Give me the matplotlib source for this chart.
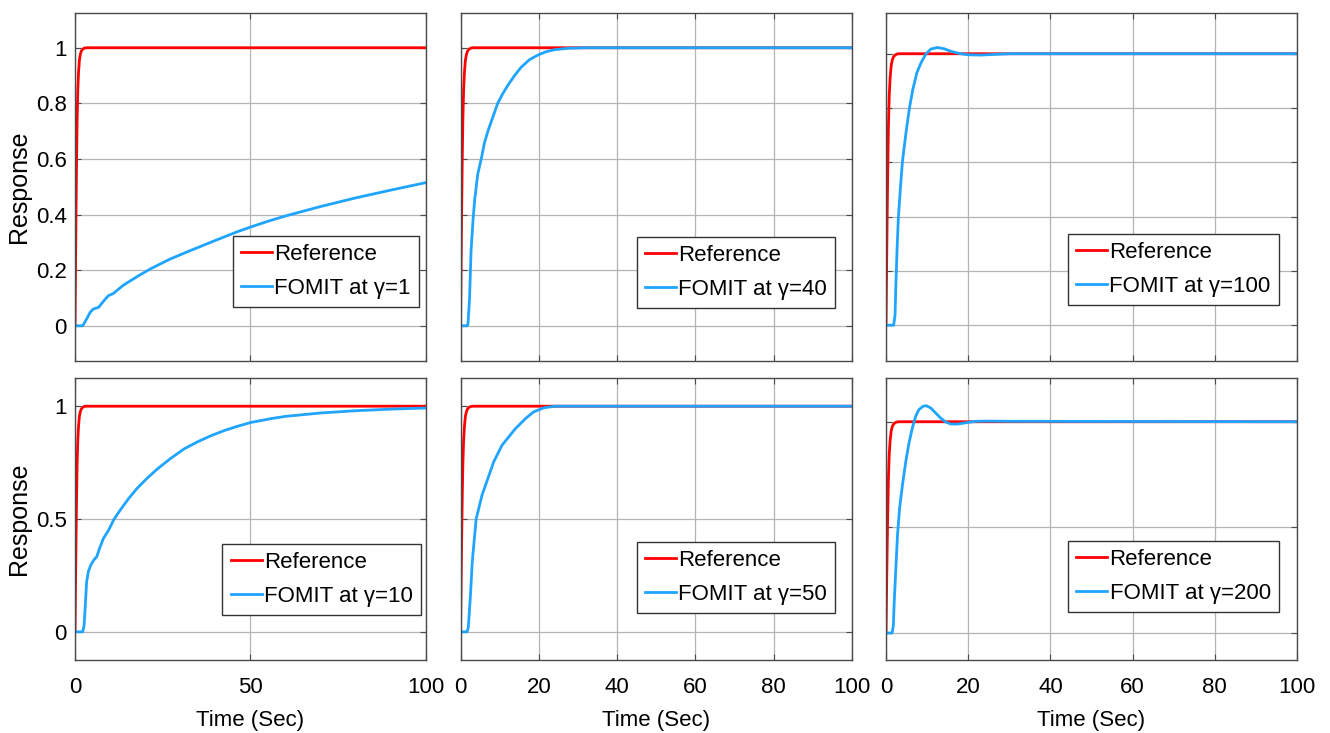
import matplotlib
matplotlib.use('Agg')
import matplotlib.pyplot as plt
from matplotlib.ticker import FuncFormatter

plt.rcParams['font.family'] = ['Liberation Sans', 'DejaVu Sans']

# reference input (same in every panel)
t_ref = [0, 0.15, 0.3, 0.45, 0.6, 0.8, 1.0, 1.25, 1.5, 1.8, 2.2, 2.7, 3.2, 100]
y_ref = [0, 0.22, 0.42, 0.6, 0.74, 0.85, 0.91, 0.955, 0.975, 0.988, 0.995, 0.999, 1, 1]

# FOMIT responses for each gamma
t_g1 = [0, 2.2, 3.3, 4.3, 5.2, 6.7, 8.1, 9.5, 10.9, 13.8, 17.6, 21.4, 27.1, 32, 36.7,
        41, 46, 50, 55, 60, 70, 80, 90, 100]
y_g1 = [0, 0, 0.024, 0.048, 0.06, 0.066, 0.088, 0.108, 0.116, 0.146, 0.176, 0.204,
        0.24, 0.266, 0.29, 0.312, 0.337, 0.355, 0.376, 0.395, 0.429, 0.46, 0.488, 0.515]

t_g10 = [0, 2.2, 2.6, 3.0, 3.3, 3.8, 4.5, 5.4, 6.2, 7.0, 8.1, 9.6, 11.0, 12.9, 15.3,
         17.7, 20.5, 23.4, 27.2, 31.0, 34.9, 38.7, 42.5, 46.3, 50.1, 55.9, 60, 70,
         80, 90, 100]
y_g10 = [0, 0, 0.03, 0.134, 0.22, 0.267, 0.296, 0.319, 0.333, 0.37, 0.414, 0.451,
         0.496, 0.54, 0.591, 0.636, 0.68, 0.721, 0.768, 0.81, 0.842, 0.869, 0.892,
         0.911, 0.928, 0.945, 0.955, 0.97, 0.98, 0.987, 0.992]

t_g40 = [0, 1.7, 1.9, 2.3, 2.7, 3.2, 3.6, 4.4, 5.3, 6.1, 7.0, 8.3, 9.5, 10.8, 12.1,
         13.8, 15.5, 17.6, 19.8, 21.9, 24.0, 27.5, 31.7, 100]
y_g40 = [0, 0, 0.005, 0.094, 0.27, 0.38, 0.45, 0.545, 0.60, 0.657, 0.70, 0.752, 0.80,
         0.835, 0.865, 0.90, 0.93, 0.957, 0.974, 0.986, 0.993, 0.998, 1, 1]

t_g50 = [0, 1.7, 2.0, 2.55, 3.0, 4.0, 5.5, 8.5, 10.6, 14.0, 16.6, 18.7, 21.3, 24.2, 100]
y_g50 = [0, 0, 0.02, 0.164, 0.31, 0.50, 0.606, 0.754, 0.827, 0.90, 0.945, 0.975,
         0.993, 1.0, 1.0]

t_g100 = [0, 1.86, 2.2, 2.4, 2.7, 3.0, 3.5, 4.0, 4.9, 5.7, 6.5, 7.5, 8.5, 9.7, 10.9,
          12.5, 14.2, 15.8, 17.8, 20, 23, 27, 30.3, 100]
y_g100 = [0, 0, 0.037, 0.148, 0.283, 0.394, 0.504, 0.603, 0.713, 0.80, 0.867, 0.929,
          0.966, 0.999, 1.017, 1.023, 1.018, 1.009, 1.001, 0.996, 0.995, 0.998, 1, 1]

t_g200 = [0, 1.5, 1.8, 2.0, 2.4, 2.8, 3.3, 4.0, 4.8, 5.6, 6.4, 7.2, 8.0, 9.0, 9.8,
          10.9, 12.1, 13.3, 14.6, 15.8, 17.4, 19.4, 21.9, 25.1, 30, 100]
y_g200 = [0, 0, 0.038, 0.148, 0.306, 0.464, 0.59, 0.70, 0.81, 0.90, 0.97, 1.025,
          1.057, 1.073, 1.076, 1.065, 1.041, 1.017, 0.998, 0.989, 0.989, 0.995, 1.002,
          1.003, 1.002, 1]

gammas = ['1', '40', '100', '10', '50', '200']
curves = [(t_g1, y_g1), (t_g40, y_g40), (t_g100, y_g100),
          (t_g10, y_g10), (t_g50, y_g50), (t_g200, y_g200)]

RED = '#ff0000'
BLUE = '#1fa4ff'

W, H = 1330, 733
cols = [(75, 426), (460.5, 852), (886, 1297)]
rows = [(13, 360.5), (378, 660)]
ylims = [(-0.125, 1.125), (-0.125, 1.125), (-0.13, 1.15),
         (-0.125, 1.125), (-0.125, 1.125), (-0.128, 1.207)]
yticks_top = [0, 0.2, 0.4, 0.6, 0.8, 1]
yticks_bot = [0, 0.5, 1]
leg_anchor = [(0.98, 0.154), (0.957, 0.151), (0.956, 0.160),
              (0.986, 0.160), (0.957, 0.167), (0.956, 0.170)]

fig = plt.figure(figsize=(W / 100, H / 100), dpi=100)

for i in range(6):
    r, c = divmod(i, 3)
    x0, x1 = cols[c]
    y0, y1 = rows[r]
    ax = fig.add_axes([x0 / W, 1 - y1 / H, (x1 - x0) / W, (y1 - y0) / H])

    t, y = curves[i]
    ax.plot(t_ref, y_ref, color=RED, lw=2.0, label='Reference', solid_joinstyle='round')
    ax.plot(t, y, color=BLUE, lw=2.0, label='FOMIT at \u03b3=' + gammas[i],
            solid_joinstyle='round')

    ax.set_xlim(0, 100)
    ax.set_ylim(*ylims[i])
    ax.set_xticks([0, 50, 100] if c == 0 else [0, 20, 40, 60, 80, 100])
    ax.set_yticks(yticks_top if r == 0 else yticks_bot)
    ax.yaxis.set_major_formatter(FuncFormatter(lambda v, p: '%g' % v))
    ax.xaxis.set_major_formatter(FuncFormatter(lambda v, p: '%g' % v))

    ax.grid(True, color='#b4b4b4', lw=0.9)
    ax.set_axisbelow(True)
    for s in ax.spines.values():
        s.set_color('#4a4a4a')
        s.set_linewidth(1.0)
    ax.tick_params(direction='in', length=4, width=0.8, color='#4a4a4a',
                   top=True, right=True, labelsize=16, pad=6)
    ax.tick_params(axis='x', pad=12)

    if r == 0:
        ax.tick_params(labelbottom=False)
    else:
        ax.set_xlabel('Time (Sec)', fontsize=16, labelpad=9)
    if c == 0:
        ax.set_ylabel('Response', fontsize=18)
        ax.yaxis.set_label_coords(-0.125, 0.5)
    else:
        ax.tick_params(labelleft=False)

    leg = ax.legend(loc='lower right', bbox_to_anchor=leg_anchor[i], borderaxespad=0,
                    fontsize=16, fancybox=False, framealpha=1, edgecolor='#333333',
                    handlelength=1.4, handletextpad=0.1, labelspacing=0.57,
                    borderpad=0.37)
    leg.get_frame().set_linewidth(1.0)

fig.savefig('out.png', dpi=100)
